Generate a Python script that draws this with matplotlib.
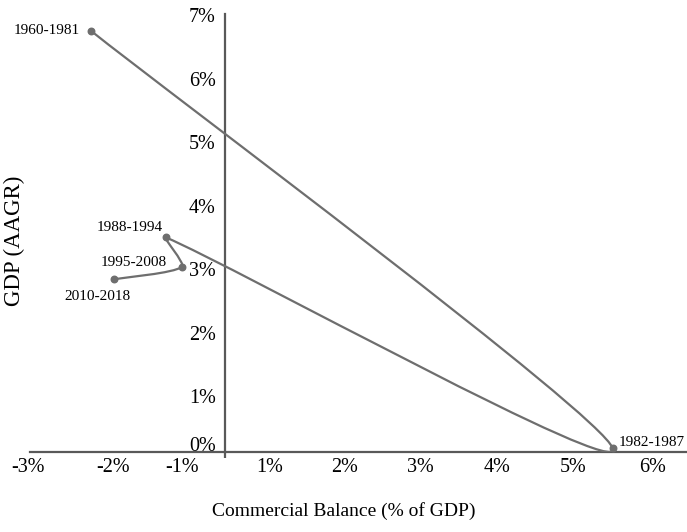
import numpy as np
import matplotlib.pyplot as plt
from matplotlib.path import Path
from matplotlib.patches import PathPatch
from matplotlib.transforms import blended_transform_factory, offset_copy, ScaledTranslation

plt.rcParams['font.family'] = ['Liberation Serif', 'DejaVu Serif']

# Data ---------------------------------------------------------------

periods = ['1960-1981', '1982-1987', '1988-1994', '1995-2008', '2010-2018']
balance = [-1.90, 5.50, -0.84, -0.61, -1.58]     # commercial balance, % of GDP
growth = [6.73, 0.06, 3.43, 2.96, 2.76]          # GDP AAGR, %

ytick_vals = [0, 1, 2, 3, 4, 5, 6, 7]
xtick_labels = ['-3%', '-2%', '-1%', '1%', '2%', '3%', '4%', '5%', '6%']
# label spots along the bottom axis, as they sit in the original chart
xtick_spots = [-2.79, -1.59, -0.61, 0.64, 1.70, 2.77, 3.86, 4.94, 6.07]

# label offsets (pixels) for each period
label_off = [(-11, 0), (6, 6), (-3, 10), (-15, 4), (-16, -17)]
label_ha = ['right', 'left', 'right', 'right', 'center']

line_c = '#6e6e6e'
axis_c = '#595959'

# Figure -------------------------------------------------------------

fig = plt.figure(figsize=(6.87, 5.32), dpi=100)
ax = fig.add_axes([30 / 687, 80 / 532, 657 / 687, 438 / 532])
ax.set_xlim(-2.766, 6.553)
ax.set_ylim(0, 7)

# smooth line, bezier built in pixel space (Excel-like smoothing,
# control arms limited by the length of the segment they belong to)
pts = ax.transData.transform(np.column_stack([balance, growth]))
n = len(pts)

def arm(i, seg_len):
    a = pts[i - 1] if i > 0 else pts[i]
    b = pts[i + 1] if i + 1 < n else pts[i]
    t = (b - a) / 6
    L = np.hypot(*t)
    lim = 0.15 * seg_len
    if L > lim and L > 0:
        t = t * lim / L
    return t

verts = [pts[0]]
codes = [Path.MOVETO]
for i in range(n - 1):
    seg = np.hypot(*(pts[i + 1] - pts[i]))
    c1 = pts[i] + arm(i, seg)
    c2 = pts[i + 1] - arm(i + 1, seg)
    verts += [c1, c2, pts[i + 1]]
    codes += [Path.CURVE4] * 3
verts = ax.transData.inverted().transform(np.array(verts))
ax.add_patch(PathPatch(Path(verts, codes), fc='none', ec=line_c, lw=1.6,
                       capstyle='round', joinstyle='round', zorder=3))
ax.scatter(balance, growth, s=22, color=line_c, zorder=4)

for i, name in enumerate(periods):
    ax.annotate(name, (balance[i], growth[i]), xytext=label_off[i],
                textcoords='offset pixels', ha=label_ha[i], va='center',
                fontsize=11)

# axes crossing at zero
for side in ['top', 'right']:
    ax.spines[side].set_visible(False)
ax.spines['left'].set_position(('data', 0))
ax.spines['bottom'].set_position(('data', 0))
for side in ['left', 'bottom']:
    ax.spines[side].set_color(axis_c)
    ax.spines[side].set_linewidth(1.6)

ax.set_yticks(ytick_vals)
ax.set_yticklabels([f'{v}%' for v in ytick_vals])
ax.tick_params(axis='y', length=0, pad=6.5, labelsize=14.5)
for v, lab in zip(ytick_vals, ax.get_yticklabels()):
    dy = 8 if v == 0 else -(8 - v)
    lab.set_transform(lab.get_transform() + ScaledTranslation(0, dy / 100, fig.dpi_scale_trans))

ax.set_xticks([])
ax.set_xticks([0], minor=True)
ax.tick_params(axis='x', which='minor', length=4.5, width=1.6, color=axis_c,
               direction='out', labelbottom=False)

trans = offset_copy(blended_transform_factory(ax.transData, ax.transAxes),
                    fig=fig, x=0, y=-16, units='dots')
for pos, lab in zip(xtick_spots, xtick_labels):
    ax.text(pos, 0, lab, transform=trans, ha='center', va='center', fontsize=14.5)

fig.text(344 / 687, 1 - 511 / 532, 'Commercial Balance (% of GDP)', ha='center',
         va='center', fontsize=14)
fig.text(14 / 687, 1 - 241 / 532, 'GDP (AAGR)', ha='center', va='center',
         rotation=90, fontsize=16.5)

fig.savefig('out.png', dpi=100)
